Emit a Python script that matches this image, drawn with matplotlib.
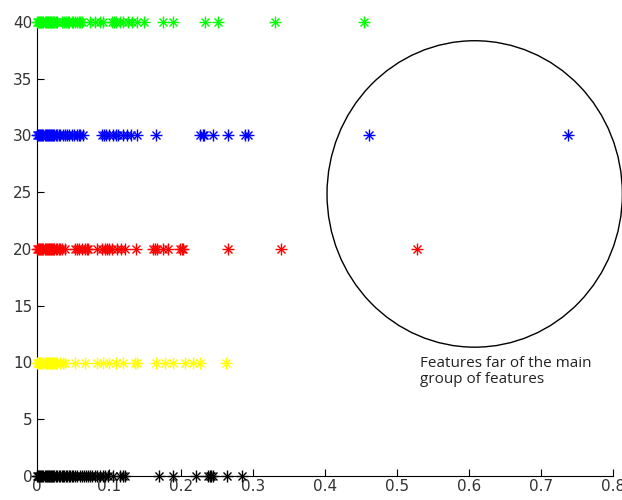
import matplotlib
matplotlib.use("Agg")
import matplotlib.pyplot as plt
from matplotlib.patches import Ellipse

levels = [0, 10, 20, 30, 40]
colors = ["black", "yellow", "red", "blue", "lime"]

x_black = [0.0, 0.0015, 0.003, 0.0045, 0.006, 0.0075, 0.009, 0.0105, 0.012, 0.0135,
           0.015, 0.0165, 0.018, 0.0195, 0.021, 0.0225, 0.024, 0.026, 0.028, 0.030,
           0.032, 0.034, 0.036, 0.038, 0.040, 0.042, 0.044, 0.046, 0.048, 0.050, 0.053,
           0.056, 0.059, 0.062, 0.065, 0.068, 0.071, 0.074, 0.077, 0.080, 0.083, 0.088,
           0.092, 0.095, 0.099, 0.106, 0.115, 0.120, 0.122, 0.170, 0.189, 0.221,
           0.238, 0.240, 0.242, 0.245, 0.264, 0.285]
x_yellow = [0.0, 0.0015, 0.003, 0.0045, 0.006, 0.0075, 0.009, 0.0105, 0.012, 0.0135,
            0.015, 0.0165, 0.018, 0.0195, 0.021, 0.0225, 0.024, 0.026, 0.028, 0.032,
            0.036, 0.039, 0.053, 0.067, 0.083, 0.092, 0.100, 0.110, 0.120, 0.136, 0.139,
            0.165, 0.178, 0.189, 0.206, 0.217, 0.226, 0.262]
x_red = [0.0, 0.0015, 0.003, 0.0045, 0.006, 0.0075, 0.009, 0.0105, 0.012, 0.0135,
         0.015, 0.0165, 0.018, 0.0195, 0.021, 0.0225, 0.024, 0.026, 0.028, 0.030, 0.032,
         0.035, 0.039, 0.053, 0.056, 0.058, 0.062, 0.066, 0.069, 0.071, 0.083, 0.090,
         0.094, 0.097, 0.100, 0.104, 0.111, 0.117, 0.122, 0.1375, 0.161, 0.164, 0.166,
         0.175, 0.182, 0.199, 0.201, 0.203, 0.265, 0.339, 0.528]
x_blue = [0.0, 0.0015, 0.003, 0.0045, 0.006, 0.0075, 0.009, 0.0105, 0.012, 0.0135,
          0.015, 0.0165, 0.018, 0.0195, 0.021, 0.0225, 0.024, 0.026, 0.028, 0.030, 0.032,
          0.036, 0.039, 0.042, 0.045, 0.048, 0.051, 0.055, 0.058, 0.060, 0.064, 0.090,
          0.093, 0.096, 0.100, 0.105, 0.110, 0.113, 0.120, 0.125, 0.130, 0.139, 0.165,
          0.226, 0.230, 0.232, 0.245, 0.265, 0.289, 0.293, 0.461, 0.7375]
x_green = [0.0, 0.0015, 0.003, 0.0045, 0.006, 0.0075, 0.009, 0.0105, 0.012, 0.0135,
           0.015, 0.0165, 0.018, 0.0195, 0.021, 0.0225, 0.024, 0.026, 0.028, 0.035,
           0.038, 0.040, 0.043, 0.045, 0.048, 0.050, 0.053, 0.055, 0.058, 0.060, 0.063,
           0.074, 0.080, 0.087, 0.092, 0.104, 0.107, 0.109, 0.115, 0.120, 0.126, 0.132,
           0.139, 0.149, 0.175, 0.189, 0.233, 0.251, 0.331, 0.454]

xs = [x_black, x_yellow, x_red, x_blue, x_green]

xticks = [0, 0.1, 0.2, 0.3, 0.4, 0.5, 0.6, 0.7, 0.8]
xticklabels = ["0", "0.1", "0.2", "0.3", "0.4", "0.5", "0.6", "0.7", "0.8"]
yticks = [0, 5, 10, 15, 20, 25, 30, 35, 40]
note = "Features far of the main\ngroup of features"

fig = plt.figure(figsize=(6.22, 5.0), dpi=100)
ax = fig.add_axes([0.0595, 0.048, 0.9265, 0.908])

for lv, c, xv in zip(levels, colors, xs):
    yv = [lv] * len(xv)
    ax.plot(xv, yv, linestyle="none", marker="+", ms=9, mew=1.0, color=c, clip_on=False, zorder=3)
    ax.plot(xv, yv, linestyle="none", marker="x", ms=6, mew=1.0, color=c, clip_on=False, zorder=3)

ell = Ellipse((0.6076, 24.85), width=0.41, height=27.0, fill=False,
              edgecolor="black", linewidth=1.0, clip_on=False)
ax.add_patch(ell)

ax.text(0.532, 10.6, note, fontsize=11, family=["Open Sans", "DejaVu Sans"],
        va="top", ha="left", color="#222222", linespacing=1.15)

ax.set_xlim(0, 0.8)
ax.set_ylim(0, 40)
ax.set_xticks(xticks)
ax.set_xticklabels(xticklabels)
ax.set_yticks(yticks)
ax.spines["top"].set_visible(False)
ax.spines["right"].set_visible(False)
ax.tick_params(direction="in", length=5, labelsize=11, colors="black",
               labelcolor="#333333")
ax.tick_params(axis="x", pad=2)

fig.savefig("out.png", dpi=100)
